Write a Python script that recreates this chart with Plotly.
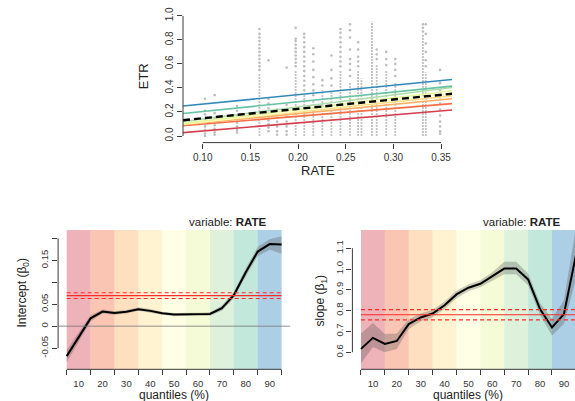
import plotly.graph_objects as go

# ---------------- data ----------------
quantiles = [5, 10, 15, 20, 25, 30, 35, 40, 45, 50, 55, 60, 65, 70, 75, 80, 85, 90, 95]

intercept = [-0.068, -0.025, 0.018, 0.0334, 0.030, 0.033, 0.0387, 0.035, 0.0296, 0.0266,
             0.0275, 0.028, 0.028, 0.041, 0.071, 0.123, 0.170, 0.187, 0.186]
intercept_lo = [-0.082, -0.034, 0.011, 0.029, 0.026, 0.029, 0.035, 0.031, 0.026, 0.023,
                0.024, 0.025, 0.024, 0.035, 0.064, 0.114, 0.160, 0.174, 0.165]
intercept_hi = [-0.054, -0.016, 0.025, 0.038, 0.034, 0.037, 0.043, 0.039, 0.033, 0.030,
                0.031, 0.031, 0.032, 0.047, 0.078, 0.132, 0.181, 0.198, 0.205]

slope = [0.616, 0.669, 0.640, 0.654, 0.735, 0.767, 0.786, 0.826, 0.878, 0.910,
         0.929, 0.965, 1.002, 1.003, 0.950, 0.807, 0.719, 0.783, 1.065]
slope_lo = [0.545, 0.625, 0.600, 0.615, 0.712, 0.748, 0.768, 0.808, 0.860, 0.893,
            0.912, 0.945, 0.975, 0.975, 0.922, 0.778, 0.680, 0.735, 0.950]
slope_hi = [0.690, 0.740, 0.688, 0.690, 0.758, 0.786, 0.804, 0.844, 0.896, 0.927,
            0.946, 0.985, 1.035, 1.035, 0.978, 0.836, 0.760, 0.850, 1.200]

ols_intercept, ols_intercept_se = 0.0697, 0.0065
ols_slope, ols_slope_se = 0.780, 0.025

# RATE values with a dense run of observations from 0 up to a top value
dense_rate = [0.1595, 0.1975, 0.2065, 0.216, 0.2255, 0.235, 0.2445, 0.2545, 0.263,
              0.2665, 0.2775, 0.2825, 0.2925, 0.302, 0.331, 0.334]
dense_top = [0.52, 0.55, 0.35, 0.30, 0.38, 0.37, 0.55, 0.45, 0.55,
             0.48, 0.95, 0.60, 0.55, 0.45, 0.84, 0.53]

# individual (sparse) observations, grouped by RATE
sparse_obs = {
    0.1024: [0.31, 0.21, 0.18, 0.14, 0.11, 0.08, 0.05, 0.02, 0.0],
    0.1125: [0.34, 0.19, 0.15, 0.12, 0.09, 0.06, 0.03, 0.01],
    0.136: [0.25, 0.21, 0.17, 0.14, 0.11, 0.08, 0.05, 0.03],
    0.1595: [0.55, 0.58, 0.61, 0.64, 0.67, 0.70, 0.73, 0.76, 0.79, 0.82, 0.85, 0.89],
    0.169: [0.63, 0.31, 0.27, 0.23, 0.19, 0.16, 0.13, 0.10, 0.07, 0.04],
    0.178: [0.22, 0.17, 0.12, 0.08, 0.04, 0.01],
    0.188: [0.57, 0.26, 0.21, 0.16, 0.12, 0.08, 0.04, 0.01],
    0.1975: [0.58, 0.61, 0.64, 0.67, 0.70, 0.73, 0.76, 0.79, 0.81, 0.90],
    0.2065: [0.38, 0.42, 0.46, 0.50, 0.54, 0.58, 0.62, 0.66, 0.70, 0.74, 0.78, 0.82, 0.85],
    0.216: [0.34, 0.38, 0.43, 0.49, 0.55, 0.62, 0.68, 0.73],
    0.2255: [0.42, 0.465],
    0.235: [0.42, 0.48, 0.55, 0.67],
    0.2445: [0.58, 0.62, 0.66, 0.70, 0.74, 0.78, 0.82, 0.86, 0.89],
    0.2545: [0.50, 0.55, 0.60, 0.64, 0.72, 0.82, 0.88, 0.93],
    0.263: [0.58, 0.62, 0.66, 0.72, 0.78],
    0.2825: [0.64, 0.68, 0.72],
    0.2925: [0.59, 0.64, 0.70],
    0.302: [0.50, 0.55, 0.60, 0.64],
    0.331: [0.87, 0.90, 0.93],
    0.334: [0.58, 0.63, 0.70, 0.77, 0.85, 0.93],
    0.349: [0.55, 0.44, 0.38, 0.32, 0.27, 0.22, 0.17, 0.12, 0.08, 0.04, 0.02],
}

band_centers = [10, 20, 30, 40, 50, 60, 70, 80, 90]
band_edges = [5, 15, 25, 35, 45, 55, 65, 75, 85, 95]
spectral = ["#D53E4F", "#F46D43", "#FDAE61", "#FEE08B", "#FFFFBF",
            "#E6F598", "#ABDDA4", "#66C2A5", "#3288BD"]

x_ticks_top = [0.10, 0.15, 0.20, 0.25, 0.30, 0.35]
y_ticks_top = [0.0, 0.2, 0.4, 0.6, 0.8, 1.0]
int_ticks = [-0.05, 0.0, 0.05, 0.15]
int_tick_text = ["-0.05", "0", "0.05", "0.15"]
int_ticks_unlabelled = [0.10, 0.20]
int_axis_span = [-0.05, 0.20]
slope_ticks = [0.6, 0.7, 0.8, 0.9, 1.0, 1.1]
slope_tick_text = ["0.6", "0.7", "0.8", "0.9", "1.0", "1.1"]

# ---------------- layout helpers ----------------
W, H = 575, 401
FONT = "Liberation Sans, Arial, Helvetica, sans-serif"
AX = "#3a3a3a"


def fx(p):
    return p / W


def fy(p):
    return 1 - p / H


top_xrange = [0.0793, 0.3615]
top_yrange = [-0.055, 1.041]
q_range_left = [1.4, 98.6]
q_range_right = [1.4, 94.64]
int_range = [-0.098, 0.219]
slope_range = [0.5176, 1.1876]

fig = go.Figure()

# ---------------- top panel: ETR vs RATE ----------------
dx, dy = [], []
for r, t in zip(dense_rate, dense_top):
    dx += [r, r, None]
    dy += [0.0, t, None]
fig.add_trace(go.Scatter(x=dx, y=dy, mode="lines",
                         line=dict(color="#C2C2C2", width=1.8, dash="2px,1px"),
                         xaxis="x", yaxis="y", hoverinfo="skip", showlegend=False))
px_, py_ = [], []
for r, vals in sparse_obs.items():
    px_ += [r] * len(vals)
    py_ += vals
fig.add_trace(go.Scatter(x=px_, y=py_, mode="markers",
                         marker=dict(color="#BDBDBD", size=2.6, line=dict(width=0)),
                         xaxis="x", yaxis="y", showlegend=False))

# quantile regression lines (10%..90%) and the OLS fit
for q, col in zip(band_centers, spectral):
    i = quantiles.index(q)
    a, b = intercept[i], slope[i]
    fig.add_trace(go.Scatter(x=top_xrange, y=[a + b * v for v in top_xrange], mode="lines",
                             line=dict(color=col, width=1.6), xaxis="x", yaxis="y",
                             showlegend=False))
fig.add_trace(go.Scatter(x=top_xrange, y=[ols_intercept + ols_slope * v for v in top_xrange],
                         mode="lines", line=dict(color="black", width=2.4, dash="7px,4px"),
                         xaxis="x", yaxis="y", showlegend=False))


# ---------------- bottom panels: coefficient profiles ----------------
def coef_panel(xa, ya, est, lo, hi, ref, se):
    for c, col in zip(band_centers, spectral):
        fig.add_shape(type="rect", xref=xa, yref=ya + " domain", x0=c - 5, x1=c + 5,
                      y0=0, y1=1, fillcolor=col, opacity=0.4, line=dict(width=0),
                      layer="below")
    fig.add_trace(go.Scatter(x=quantiles + quantiles[::-1], y=lo + hi[::-1], fill="toself",
                             fillcolor="rgba(70,70,70,0.28)", line=dict(width=0),
                             mode="lines", xaxis=xa, yaxis=ya, hoverinfo="skip",
                             showlegend=False))
    fig.add_trace(go.Scatter(x=quantiles, y=est, mode="lines",
                             line=dict(color="black", width=2), xaxis=xa, yaxis=ya,
                             showlegend=False))
    for val, dashed in [(ref, False), (ref - se, True), (ref + se, True)]:
        fig.add_shape(type="line", xref=xa, yref=ya, x0=quantiles[0], x1=quantiles[-1],
                      y0=val, y1=val,
                      line=dict(color="#FF2A2A", width=1.2,
                                dash="4px,3px" if dashed else "solid"))


coef_panel("x2", "y2", intercept, intercept_lo, intercept_hi, ols_intercept,
           ols_intercept_se)
fig.add_shape(type="line", xref="x2 domain", yref="y2", x0=0, x1=1, y0=0, y1=0,
              line=dict(color="rgba(120,120,120,0.55)", width=1.6))
coef_panel("x3", "y3", slope, slope_lo, slope_hi, ols_slope, ols_slope_se)

# ---------------- axis lines (spanning the tick range only) ----------------
axis_line = dict(color=AX, width=1)
fig.add_shape(type="line", xref="x", yref="y domain", x0=x_ticks_top[0], x1=x_ticks_top[-1],
              y0=0, y1=0, line=axis_line)
fig.add_shape(type="line", xref="x domain", yref="y", x0=0, x1=0, y0=y_ticks_top[0],
              y1=y_ticks_top[-1], line=axis_line)
for xa, ya, span in [("x2", "y2", int_axis_span), ("x3", "y3", [slope_ticks[0], slope_ticks[-1]])]:
    fig.add_shape(type="line", xref=xa, yref=ya + " domain", x0=band_edges[0],
                  x1=band_edges[-1], y0=0, y1=0, line=axis_line)
    fig.add_shape(type="line", xref=xa + " domain", yref=ya, x0=0, x1=0, y0=span[0],
                  y1=span[1], line=axis_line)

tick_font_top = dict(family=FONT, size=10, color="#333")
tick_font_bot = dict(family=FONT, size=9.5, color="#333")

q_axis = dict(tickmode="array", tickvals=band_centers, ticktext=[str(c) for c in band_centers],
              ticks="outside", ticklen=5, tickcolor="rgba(0,0,0,0)", showgrid=False,
              zeroline=False, showline=False, tickfont=tick_font_bot,
              minor=dict(tickmode="array", tickvals=band_edges,
                         ticks="outside", ticklen=5, tickcolor=AX, tickwidth=1))

fig.update_layout(
    width=W, height=H, margin=dict(l=0, r=0, t=0, b=0),
    paper_bgcolor="white", plot_bgcolor="white", showlegend=False,
    xaxis=dict(domain=[fx(183), fx(452)], range=top_xrange, anchor="y",
               tickmode="array", tickvals=x_ticks_top,
               ticktext=["%.2f" % v for v in x_ticks_top], ticks="outside", ticklen=5,
               tickcolor=AX, showgrid=False, zeroline=False, showline=False,
               tickfont=tick_font_top),
    yaxis=dict(domain=[fy(140), fy(7)], range=top_yrange, anchor="x",
               tickmode="array", tickvals=y_ticks_top,
               ticktext=["%.1f" % v for v in y_ticks_top], ticks="outside", ticklen=5,
               tickcolor=AX, tickangle=-90, showgrid=False, zeroline=False,
               showline=False, tickfont=tick_font_top),
    xaxis2=dict(domain=[fx(58.1), fx(290.2)], range=q_range_left, anchor="y2", **q_axis),
    yaxis2=dict(domain=[fy(369), fy(228.3)], range=int_range, anchor="x2",
                tickmode="array", tickvals=int_ticks, ticktext=int_tick_text,
                ticks="outside", ticklen=5, tickcolor=AX, tickangle=-90, showgrid=False,
                zeroline=False, showline=False, tickfont=tick_font_bot,
                minor=dict(tickmode="array", tickvals=int_ticks_unlabelled,
                           ticks="outside", ticklen=5, tickcolor=AX, tickwidth=1)),
    xaxis3=dict(domain=[fx(352.4), 1.0], range=q_range_right, anchor="y3", **q_axis),
    yaxis3=dict(domain=[fy(369), fy(228.3)], range=slope_range, anchor="x3",
                tickmode="array", tickvals=slope_ticks, ticktext=slope_tick_text,
                ticks="outside", ticklen=5, tickcolor=AX, tickangle=-90, showgrid=False,
                zeroline=False, showline=False, tickfont=tick_font_bot),
)

title_font = dict(family=FONT, size=13, color="#222")
sub_font = dict(family=FONT, size=12, color="#222")
var_font = dict(family=FONT, size=11.5, color="#222")
ann = [
    dict(text="RATE", x=fx(317.5), y=fy(168), font=title_font, xanchor="center",
         yanchor="middle"),
    dict(text="ETR", x=fx(143), y=fy(73), font=title_font, textangle=-90,
         xanchor="center", yanchor="middle"),
    dict(text="variable: <b>RATE</b>", x=fx(268), y=fy(220), font=var_font,
         xanchor="right", yanchor="middle"),
    dict(text="variable: <b>RATE</b>", x=fx(562), y=fy(220), font=var_font,
         xanchor="right", yanchor="middle"),
    dict(text="quantiles (%)", x=fx(174), y=fy(395), font=sub_font, xanchor="center",
         yanchor="middle"),
    dict(text="quantiles (%)", x=fx(468), y=fy(395), font=sub_font, xanchor="center",
         yanchor="middle"),
    dict(text="Intercept (β<sub>0</sub>)", x=fx(23.5), y=fy(292), font=sub_font,
         textangle=-90, xanchor="center", yanchor="middle"),
    dict(text="slope (β<sub>1</sub>)", x=fx(321.5), y=fy(300), font=sub_font,
         textangle=-90, xanchor="center", yanchor="middle"),
]
for a in ann:
    a.update(xref="paper", yref="paper", showarrow=False)
fig.update_layout(annotations=ann)

fig.write_html("out.html")
